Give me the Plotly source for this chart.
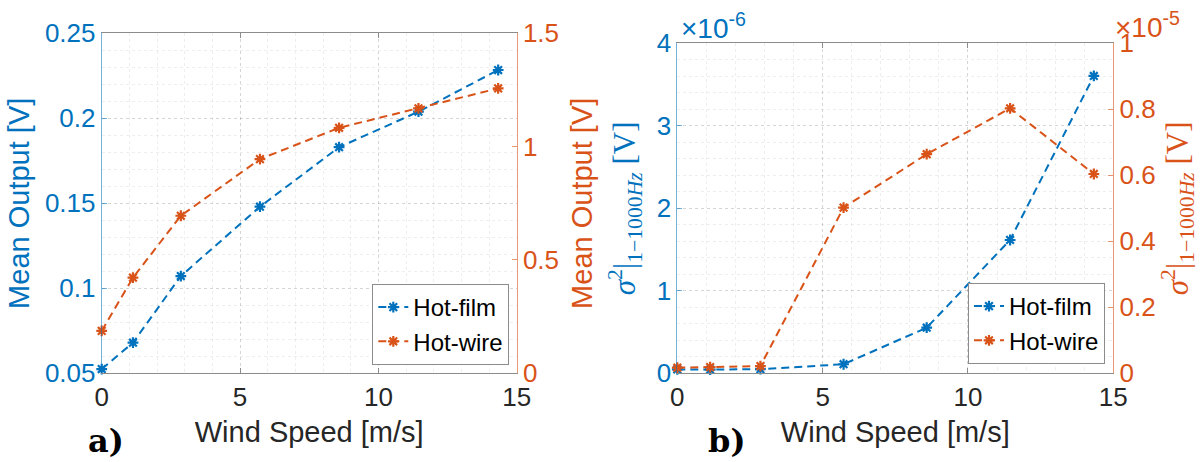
import plotly.graph_objects as go

# ---------------- data ----------------
wind_speed = [0, 1.13, 2.86, 5.72, 8.58, 11.45, 14.33]

mean_hot_film = [0.0525, 0.068, 0.1072, 0.148, 0.183, 0.2039, 0.2284]   # left axis [V]
mean_hot_wire = [0.187, 0.422, 0.695, 0.945, 1.083, 1.169, 1.257]       # right axis [V]

var_hot_film = [0.048e-6, 0.045e-6, 0.05e-6, 0.11e-6, 0.553e-6, 1.616e-6, 3.604e-6]  # left axis
var_hot_wire = [0.017e-5, 0.019e-5, 0.022e-5, 0.502e-5, 0.664e-5, 0.803e-5, 0.604e-5]  # right axis

x_ticks = [0, 5, 10, 15]
a_left_ticks = [0.05, 0.10, 0.15, 0.20, 0.25]
a_left_text = ["0.05", "0.1", "0.15", "0.2", "0.25"]
a_right_ticks = [0, 0.5, 1.0, 1.5]
a_right_text = ["0", "0.5", "1", "1.5"]
b_left_ticks = [0, 1e-6, 2e-6, 3e-6, 4e-6]
b_left_text = ["0", "1", "2", "3", "4"]
b_right_ticks = [0, 0.2e-5, 0.4e-5, 0.6e-5, 0.8e-5, 1e-5]
b_right_text = ["0", "0.2", "0.4", "0.6", "0.8", "1"]

# ---------------- style ----------------
W, H = 1203, 462
BLUE = "#0072BD"
ORANGE = "#D95319"
BLUE_LINE = "rgba(0,114,189,0.55)"
ORANGE_LINE = "rgba(217,83,25,0.6)"
BOX = "#8c8c8c"
GRID = "rgba(0,0,0,0.10)"
MINOR = "rgba(0,0,0,0.065)"
SANS = "Liberation Sans, Arial, Helvetica, sans-serif"
SERIF = "Liberation Serif, Times New Roman, serif"
BOLD_SERIF = "DejaVu Serif, Liberation Serif, serif"
TICK = 26
LAB = 29
DASH = "8px,5px"
SIG_TITLE = "<i>σ</i><sup>2</sup>|<sub>1−1000<i>Hz</i></sub> [V]"


def px_x(p):
    return p / W


def px_y(p):
    return (H - p) / H


fig = go.Figure()

marker_kw = dict(symbol="asterisk-open", size=9)


def add(x, y, xa, ya, color, name, legend):
    fig.add_trace(go.Scatter(
        x=x, y=y, xaxis=xa, yaxis=ya, name=name, legend=legend,
        mode="lines+markers", cliponaxis=False,
        line=dict(color=color, width=2, dash=DASH),
        marker=dict(color=color, line=dict(color=color, width=2.2), **marker_kw),
    ))


add(wind_speed, mean_hot_film, "x", "y", BLUE, "Hot-film", "legend")
add(wind_speed, mean_hot_wire, "x", "y2", ORANGE, "Hot-wire", "legend")
add(wind_speed, var_hot_film, "x2", "y3", BLUE, "Hot-film", "legend2")
add(wind_speed, var_hot_wire, "x2", "y4", ORANGE, "Hot-wire", "legend2")

xa_dom = [px_x(101.7), px_x(516.7)]
xb_dom = [px_x(677.3), px_x(1113.3)]
ya_dom = [px_y(373.3), px_y(33.3)]
yb_dom = [px_y(373.3), px_y(43.3)]

common_x = dict(
    range=[0, 15], tickvals=x_ticks, ticks="inside", ticklen=5, tickcolor=BOX,
    showline=True, linecolor=BOX, linewidth=1, mirror="ticks",
    showgrid=True, gridcolor=GRID, griddash="dot", gridwidth=1,
    minor=dict(dtick=1, tick0=0, showgrid=True, gridcolor=MINOR, griddash="dot", ticks=""),
    tickfont=dict(family=SANS, size=TICK, color="#262626"),
    zeroline=False, automargin=False,
    title=dict(text="Wind Speed [m/s]", font=dict(family=SANS, size=LAB, color="#262626"), standoff=11),
)

fig.update_layout(
    width=W, height=H,
    margin=dict(l=0, r=0, t=0, b=0),
    paper_bgcolor="white", plot_bgcolor="white",
    xaxis=dict(domain=xa_dom, anchor="y", **common_x),
    xaxis2=dict(domain=xb_dom, anchor="y3", **common_x),
    yaxis=dict(
        domain=ya_dom, anchor="x", range=[0.05, 0.25],
        tickvals=a_left_ticks, ticktext=a_left_text,
        ticks="inside", ticklen=5, tickcolor=BLUE_LINE,
        showline=True, linecolor=BLUE_LINE, linewidth=1,
        showgrid=True, gridcolor=GRID, griddash="dot",
        minor=dict(dtick=0.01, tick0=0.05, showgrid=True, gridcolor=MINOR, griddash="dot", ticks=""),
        tickfont=dict(family=SANS, size=TICK, color=BLUE),
        zeroline=False, automargin=False,
        title=dict(text="Mean Output [V]", font=dict(family=SANS, size=LAB, color=BLUE), standoff=6),
    ),
    yaxis2=dict(
        domain=ya_dom, anchor="x", overlaying="y", side="right", range=[0, 1.5],
        tickvals=a_right_ticks, ticktext=a_right_text,
        ticks="inside", ticklen=5, tickcolor=ORANGE_LINE,
        showline=True, linecolor=ORANGE_LINE, linewidth=1,
        showgrid=False, zeroline=False, automargin=False,
        tickfont=dict(family=SANS, size=TICK, color=ORANGE),
        title=dict(text="Mean Output [V]", font=dict(family=SANS, size=LAB, color=ORANGE), standoff=13),
    ),
    yaxis3=dict(
        domain=yb_dom, anchor="x2", range=[0, 4e-6],
        tickvals=b_left_ticks, ticktext=b_left_text,
        ticks="inside", ticklen=5, tickcolor=BLUE_LINE,
        showline=True, linecolor=BLUE_LINE, linewidth=1,
        showgrid=True, gridcolor=GRID, griddash="dot",
        minor=dict(dtick=0.2e-6, tick0=0, showgrid=True, gridcolor=MINOR, griddash="dot", ticks=""),
        tickfont=dict(family=SANS, size=TICK, color=BLUE),
        zeroline=False, automargin=False,
        title=dict(text=SIG_TITLE, font=dict(family=SERIF, size=31, color=BLUE), standoff=11),
    ),
    yaxis4=dict(
        domain=yb_dom, anchor="x2", overlaying="y3", side="right", range=[0, 1e-5],
        tickvals=b_right_ticks, ticktext=b_right_text,
        ticks="inside", ticklen=5, tickcolor=ORANGE_LINE,
        showline=True, linecolor=ORANGE_LINE, linewidth=1,
        showgrid=False, zeroline=False, automargin=False,
        tickfont=dict(family=SANS, size=TICK, color=ORANGE),
        title=dict(text=SIG_TITLE, font=dict(family=SERIF, size=31, color=ORANGE), standoff=1),
    ),
    legend=dict(
        x=px_x(509.3), y=px_y(365), xanchor="right", yanchor="bottom",
        bgcolor="white", bordercolor="#8c8c8c", borderwidth=1,
        font=dict(family=SANS, size=24, color="black"), itemwidth=30, tracegroupgap=0,
    ),
    legend2=dict(
        x=px_x(1105), y=px_y(364), xanchor="right", yanchor="bottom",
        bgcolor="white", bordercolor="#8c8c8c", borderwidth=1,
        font=dict(family=SANS, size=24, color="black"), itemwidth=30, tracegroupgap=0,
    ),
    annotations=[
        dict(text="<b>a)</b>", x=px_x(86), y=px_y(462), xref="paper", yref="paper",
             showarrow=False, font=dict(family=BOLD_SERIF, size=32, color="black")),
        dict(text="<b>b)</b>", x=px_x(727), y=px_y(462), xref="paper", yref="paper",
             showarrow=False, font=dict(family=BOLD_SERIF, size=32, color="black")),
        dict(text="×10<sup>-6</sup>", x=px_x(679), y=px_y(46), xref="paper", yref="paper",
             xanchor="left", yanchor="bottom", showarrow=False,
             font=dict(family=SANS, size=28, color=BLUE)),
        dict(text="×10<sup>-5</sup>", x=px_x(1113), y=px_y(45), xref="paper", yref="paper",
             xanchor="left", yanchor="bottom", showarrow=False,
             font=dict(family=SANS, size=28, color=ORANGE)),
    ],
    showlegend=True,
)

fig.write_html("out.html", config={"displayModeBar": False},
               post_script="document.body.style.margin='0px';document.body.style.overflow='hidden';")
